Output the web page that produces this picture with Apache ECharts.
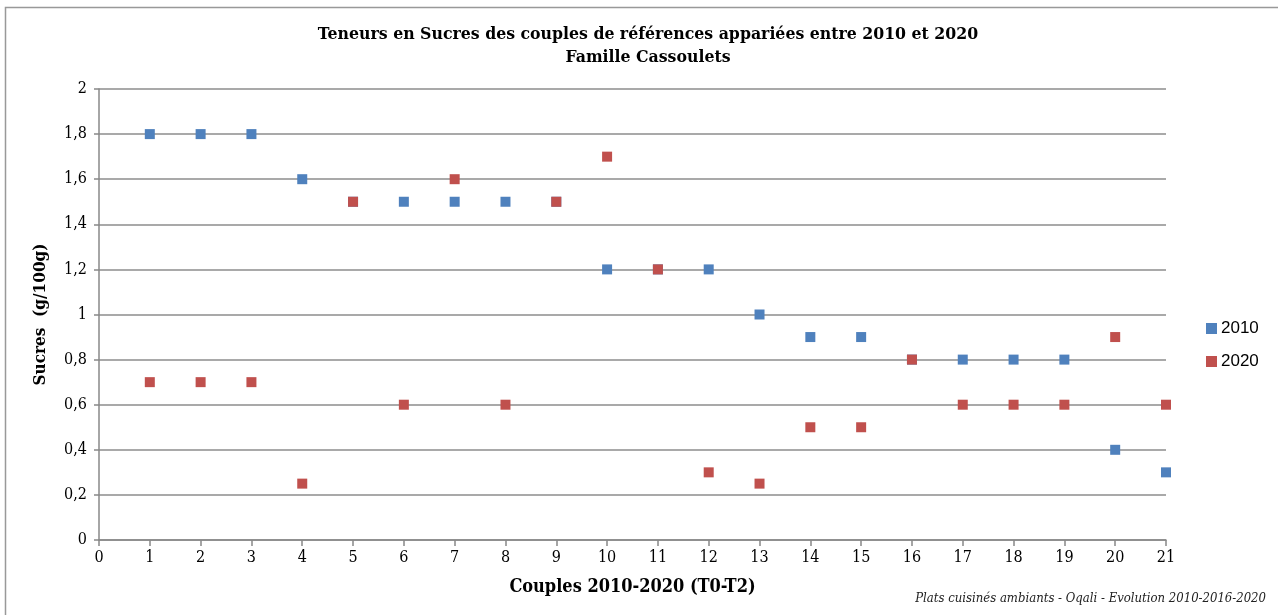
<!DOCTYPE html>
<html lang="fr">
<head>
<meta charset="UTF-8">
<title>Teneurs en Sucres - Famille Cassoulets</title>
<style>
  html, body { margin: 0; padding: 0; background: #fff; }
  #chart { width: 1278px; height: 615px; }
</style>
</head>
<body>
<div id="chart"></div>
<script src="https://cdn.jsdelivr.net/npm/echarts@6/dist/echarts.min.js"></script>
<script>
// couples 1..21
var couples = [1, 2, 3, 4, 5, 6, 7, 8, 9, 10, 11, 12, 13, 14, 15, 16, 17, 18, 19, 20, 21];
// teneurs en sucres (g/100g)
var sucres2010 = [1.8, 1.8, 1.8, 1.6, 1.5, 1.5, 1.5, 1.5, 1.5, 1.2, 1.2, 1.2, 1.0, 0.9, 0.9, 0.8, 0.8, 0.8, 0.8, 0.4, 0.3];
var sucres2020 = [0.7, 0.7, 0.7, 0.25, 1.5, 0.6, 1.6, 0.6, 1.5, 1.7, 1.2, 0.3, 0.25, 0.5, 0.5, 0.8, 0.6, 0.6, 0.6, 0.9, 0.6];

function pairs(xs, ys) {
  return xs.map(function (x, i) { return [x, ys[i]]; });
}

var cond = "'DejaVu Serif Condensed', 'DejaVu Serif', serif";
var sans = "'Liberation Sans', 'DejaVu Sans', sans-serif";

var chart = echarts.init(document.getElementById('chart'));
chart.setOption({
  animation: false,
  backgroundColor: '#fff',
  title: {
    text: 'Teneurs en Sucres des couples de références appariées entre 2010 et 2020\nFamille Cassoulets',
    left: 643,
    top: 18,
    textAlign: 'center',
    textStyle: { fontFamily: cond, fontWeight: 'bold', fontSize: 17.5, color: '#000', lineHeight: 23 }
  },
  legend: {
    orient: 'vertical',
    left: 1201,
    top: 315,
    itemWidth: 11,
    itemHeight: 11,
    itemGap: 16,
    icon: 'rect',
    textStyle: { fontFamily: sans, fontSize: 17, color: '#000', padding: [0, 0, 0, -1] },
    data: ['2010', '2020']
  },
  grid: { left: 99, right: 112, top: 89, bottom: 75 },
  xAxis: {
    type: 'value',
    min: 0, max: 21, interval: 1,
    name: 'Couples 2010-2020 (T0-T2)',
    nameLocation: 'middle',
    nameGap: 38,
    nameTextStyle: { fontFamily: cond, fontWeight: 'bold', fontSize: 18, color: '#000' },
    axisLine: { lineStyle: { color: '#888', width: 1.5 } },
    axisTick: { show: true, length: 6, lineStyle: { color: '#888', width: 1.5 } },
    axisLabel: { fontFamily: cond, fontSize: 16, color: '#000', margin: 10 },
    splitLine: { show: false }
  },
  yAxis: {
    type: 'value',
    min: 0, max: 2, interval: 0.2,
    name: 'Sucres  (g/100g)',
    nameLocation: 'middle',
    nameGap: 50,
    nameRotate: 90,
    nameTextStyle: { fontFamily: cond, fontWeight: 'bold', fontSize: 17, color: '#000' },
    axisLine: { show: true, lineStyle: { color: '#888', width: 1.5 } },
    axisTick: { show: true, length: 5, lineStyle: { color: '#888', width: 1.5 } },
    axisLabel: {
      fontFamily: cond, fontSize: 16, color: '#000', margin: 12,
      formatter: function (v) { return String(Math.round(v * 10) / 10).replace('.', ','); }
    },
    splitLine: { show: true, lineStyle: { color: '#8c8c8c', width: 1.5 } }
  },
  series: [
    {
      name: '2010',
      type: 'scatter',
      symbol: 'rect',
      symbolSize: 10,
      itemStyle: { color: '#4f81bd', opacity: 1 },
      data: pairs(couples, sucres2010)
    },
    {
      name: '2020',
      type: 'scatter',
      symbol: 'rect',
      symbolSize: 10,
      itemStyle: { color: '#c0504d', opacity: 1 },
      data: pairs(couples, sucres2020)
    }
  ],
  graphic: [
    {
      type: 'rect',
      shape: { x: 5.5, y: 7.5, width: 1400, height: 800 },
      style: { fill: 'none', stroke: '#999', lineWidth: 1.5 },
      silent: true
    },
    {
      type: 'text',
      right: 12,
      top: 592,
      style: {
        text: 'Plats cuisinés ambiants - Oqali - Evolution 2010-2016-2020',
        font: "italic 13px 'DejaVu Serif Condensed', 'DejaVu Serif', serif",
        fill: '#222'
      }
    }
  ]
});
</script>
</body>
</html>
